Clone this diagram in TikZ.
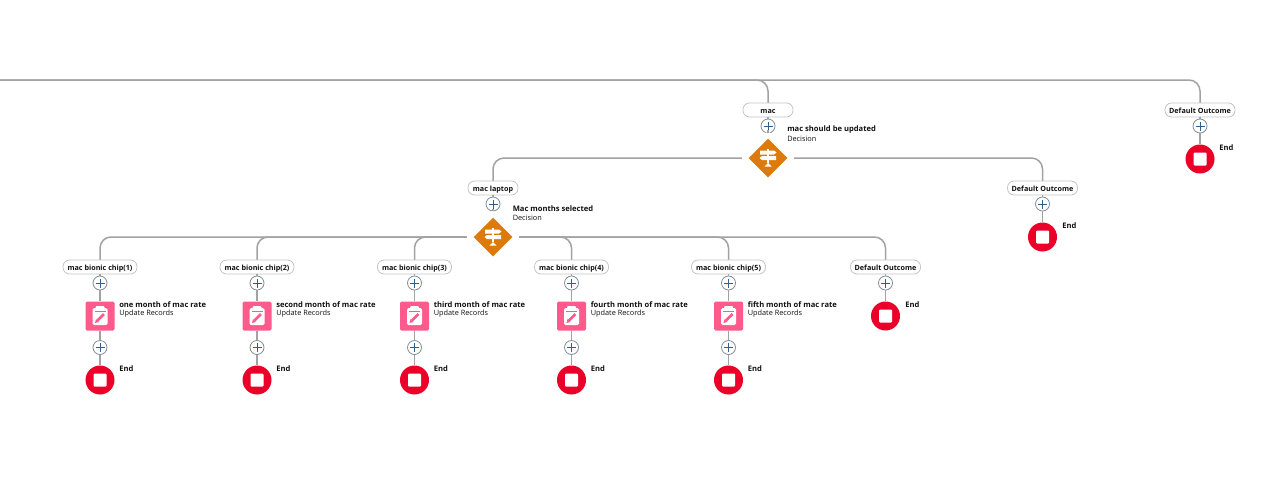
\documentclass[tikz,border=0pt]{standalone}
\usepackage{fontspec}
\setmainfont{Open Sans}
\usetikzlibrary{shapes.geometric}
\newdimen\pxu \pxu=0.75pt
\definecolor{wire}{HTML}{A2A2A2}
\definecolor{pillline}{HTML}{C4C4C4}
\definecolor{orangebox}{HTML}{DD7A0C}
\definecolor{pinkbox}{HTML}{FF5A8C}
\definecolor{redstop}{HTML}{EA0029}
\definecolor{plusblue}{HTML}{2F5F8F}
\definecolor{plusring}{HTML}{7F8C99}
\definecolor{inktext}{HTML}{111111}
\tikzset{
  x=0.75pt,y=-0.75pt,
  conn/.style={draw=wire,line width=1.5\pxu},
  elbow/.style={conn,rounded corners=11\pxu},
  pill/.style={draw=pillline,fill=white,line width=0.8\pxu,rounded corners=6.5\pxu,minimum height=14\pxu,inner sep=0pt,text height=6pt,text depth=0.5pt,font=\fontsize{5.4pt}{6pt}\selectfont\bfseries,text=inktext},
  plusnode/.style={circle,draw=plusring,fill=white,line width=0.8\pxu,minimum size=14\pxu,inner sep=0pt},
  decisionbox/.style={diamond,aspect=1,fill=orangebox,draw=white,line width=6\pxu,rounded corners=2\pxu,minimum size=50\pxu,inner sep=0pt},
  recordbox/.style={rectangle,fill=pinkbox,rounded corners=1.5\pxu,minimum size=29\pxu,inner sep=0pt},
  stopbox/.style={circle,fill=redstop,minimum size=29\pxu,inner sep=0pt},
  title/.style={anchor=west,inner sep=0pt,font=\fontsize{5.7pt}{6pt}\selectfont\bfseries,text=inktext},
  subtitle/.style={anchor=west,inner sep=0pt,font=\fontsize{5.5pt}{6pt}\selectfont,text=inktext},
  plusicon/.pic={\draw[plusblue,line width=1\pxu] (-4.5,0) -- (4.5,0) (0,-4.5) -- (0,4.5);},
  stopicon/.pic={\fill[white,rounded corners=1\pxu] (-6.5,-6.5) rectangle (6.5,6.5);},
  signicon/.pic={
    \fill[white] (-1,-9.5) rectangle (1,5);
    \fill[white] (-8,-7.5) -- (6,-7.5) -- (8.5,-5.5) -- (6,-3.5) -- (-8,-3.5) -- cycle;
    \fill[white] (8,-2) -- (-6,-2) -- (-8.5,0) -- (-6,2) -- (8,2) -- cycle;
    \fill[white] (-3.5,8.5) -- (0,5) -- (3.5,8.5) -- cycle;
  },
  recordicon/.pic={
    \fill[white,rounded corners=1.5\pxu] (-7.5,-8) rectangle (7.5,9);
    \fill[white,rounded corners=1\pxu] (-4.5,-10) rectangle (4.5,-6);
    \fill[pinkbox] (-5.5,-5.5) rectangle (5.5,-4.2);
    \draw[pinkbox,line width=2.6\pxu] (-2.5,4.5) -- (4,-2);
    \fill[pinkbox] (-5,7) -- (-4,3.2) -- (-1.2,6) -- cycle;
  }
}
\newcommand{\plusat}[3]{\node[plusnode] (#1) at (#2,#3) {}; \pic at (#1) {plusicon};}
\newcommand{\stopat}[3]{\node[stopbox] (#1) at (#2,#3) {}; \pic at (#1) {stopicon};}
\newcommand{\decisionat}[3]{\node[decisionbox] (#1) at (#2,#3) {}; \pic at (#1) {signicon};}
\begin{document}
\begin{tikzpicture}
\useasboundingbox (0,0) rectangle (1280,494);
\fill[white] (0,0) rectangle (1280,494);
\coordinate (origin) at (0,80);
\coordinate (macfork) at (768,158);
\coordinate (monthfork) at (493,237);
% connectors of upper levels, drawn first so the boxes cover their ends
\coordinate (macpos) at (768,110);
\coordinate (toppos) at (1200,110);
\coordinate (laptoppos) at (493,188);
\coordinate (midpos) at (1042.5,188);
\draw[elbow] (origin) -| (macpos);
\draw[elbow] (origin) -| (toppos);
\draw[elbow] (macfork) -| (laptoppos);
\draw[elbow] (macfork) -| (midpos);
\foreach \xx in {100,257,414.5,571.5,728.5,885.5} {
  \draw[elbow] (monthfork) -| (\xx,267);
}
% upper level nodes
\node[pill,minimum width=50\pxu] (mac) at (macpos) {mac};
\plusat{macplus}{768}{126}
\node[pill,minimum width=70\pxu] (topdefault) at (toppos) {Default Outcome};
\plusat{topplus}{1200}{126}
\stopat{topend}{1200}{159}
\node[pill,minimum width=50\pxu] (laptop) at (laptoppos) {mac laptop};
\plusat{laptopplus}{493}{204}
\node[pill,minimum width=70\pxu] (middefault) at (midpos) {Default Outcome};
\plusat{midplus}{1042.5}{204}
\stopat{midend}{1042.5}{237}
\decisionat{macdecision}{768}{158}
\decisionat{monthdecision}{493}{237}
\draw[conn] (mac) -- (macplus);
\draw[conn] (macplus) -- (macdecision);
\draw[conn] (topdefault) -- (topplus);
\draw[conn] (topplus) -- (topend);
\draw[conn] (laptop) -- (laptopplus);
\draw[conn] (laptopplus) -- (monthdecision);
\draw[conn] (middefault) -- (midplus);
\draw[conn] (midplus) -- (midend);
\node[title] (t1) at (787,130) {mac should be updated};
\node[subtitle] (s1) at (787,139) {Decision};
\node[title] (t2) at (512.5,209) {Mac months selected};
\node[subtitle] (s2) at (512.5,218) {Decision};
\node[title] (e1) at (1219,148) {End};
\node[title] (e2) at (1062,226) {End};
% six branches
\foreach \i/\xx/\lab/\ti in {
  1/100/mac bionic chip(1)/one month of mac rate,
  2/257/mac bionic chip(2)/second month of mac rate,
  3/414.5/mac bionic chip(3)/third month of mac rate,
  4/571.5/mac bionic chip(4)/fourth month of mac rate,
  5/728.5/mac bionic chip(5)/fifth month of mac rate} {
  \node[pill,minimum width=74\pxu] (chip\i) at (\xx,267) {\lab};
  \plusat{pa\i}{\xx}{283}
  \node[recordbox] (rec\i) at (\xx,316) {};
  \pic at (rec\i) {recordicon};
  \plusat{pb\i}{\xx}{347.5}
  \stopat{end\i}{\xx}{380}
  \draw[conn] (chip\i) -- (pa\i);
  \draw[conn] (pa\i) -- (rec\i);
  \draw[conn] (rec\i) -- (pb\i);
  \draw[conn] (pb\i) -- (end\i);
  \node[title] (rt\i) at (\xx+19,305) {\ti};
  \node[subtitle] (rs\i) at (\xx+19,314) {Update Records};
  \node[title] (re\i) at (\xx+19,369) {End};
}
\node[pill,minimum width=70\pxu] (lastdefault) at (885.5,267) {Default Outcome};
\plusat{lastplus}{885.5}{283}
\stopat{lastend}{885.5}{316}
\draw[conn] (lastdefault) -- (lastplus);
\draw[conn] (lastplus) -- (lastend);
\node[title] (e3) at (905,305) {End};
\end{tikzpicture}
\end{document}
